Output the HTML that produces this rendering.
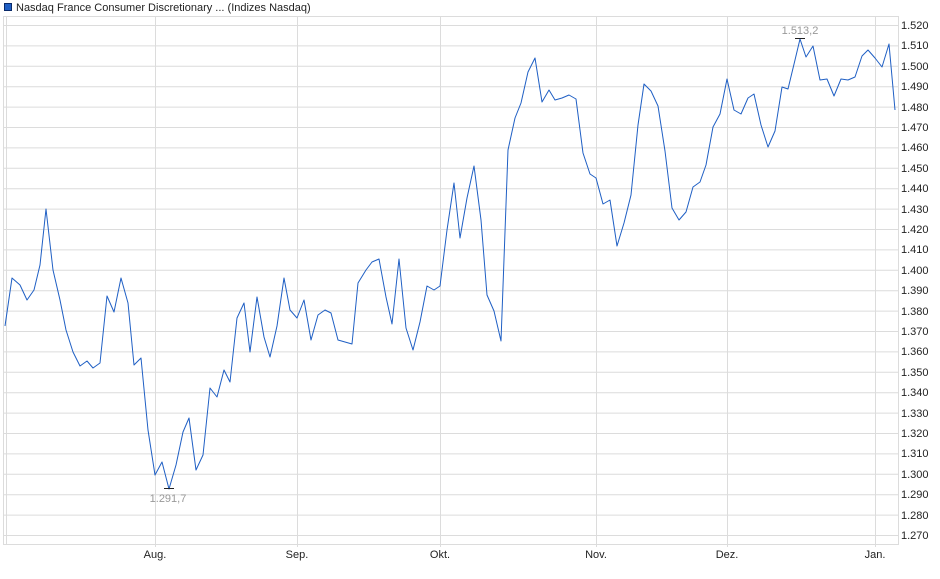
<!DOCTYPE html>
<html><head><meta charset="utf-8"><style>
body{margin:0;background:#fff;}
svg{display:block;font-family:"Liberation Sans",Arial,sans-serif;}
</style></head><body>
<svg width="940" height="579" viewBox="0 0 940 579" xmlns="http://www.w3.org/2000/svg">
<rect x="4.5" y="3.5" width="7" height="7" fill="#1f5fc4" stroke="#0a2a6a"/>
<text x="16" y="11" font-size="11" fill="#222">Nasdaq France Consumer Discretionary ... (Indizes Nasdaq)</text>
<g stroke="#dcdcdc" stroke-width="1" fill="none">
<rect x="3.5" y="16.5" width="895" height="528"/>
<line x1="6.5" y1="16" x2="6.5" y2="545"/>
<g id="h"></g>
<line x1="155.5" y1="16" x2="155.5" y2="547"/>
<line x1="297.5" y1="16" x2="297.5" y2="547"/>
<line x1="440.5" y1="16" x2="440.5" y2="547"/>
<line x1="596.5" y1="16" x2="596.5" y2="547"/>
<line x1="727.5" y1="16" x2="727.5" y2="547"/>
<line x1="875.5" y1="16" x2="875.5" y2="547"/>
<path d="M3 25.5H898M3 45.9H898M3 66.3H898M3 86.7H898M3 107.1H898M3 127.5H898M3 147.9H898M3 168.3H898M3 188.7H898M3 209.1H898M3 229.5H898M3 249.9H898M3 270.3H898M3 290.7H898M3 311.1H898M3 331.5H898M3 351.9H898M3 372.3H898M3 392.7H898M3 413.1H898M3 433.5H898M3 453.9H898M3 474.3H898M3 494.7H898M3 515.1H898M3 535.5H898"/>
</g>
<g font-size="11" fill="#222">
<text x="901" y="29">1.520</text><text x="901" y="49">1.510</text><text x="901" y="70">1.500</text><text x="901" y="90">1.490</text><text x="901" y="111">1.480</text><text x="901" y="131">1.470</text><text x="901" y="151">1.460</text><text x="901" y="172">1.450</text><text x="901" y="192">1.440</text><text x="901" y="213">1.430</text><text x="901" y="233">1.420</text><text x="901" y="253">1.410</text><text x="901" y="274">1.400</text><text x="901" y="294">1.390</text><text x="901" y="315">1.380</text><text x="901" y="335">1.370</text><text x="901" y="355">1.360</text><text x="901" y="376">1.350</text><text x="901" y="396">1.340</text><text x="901" y="417">1.330</text><text x="901" y="437">1.320</text><text x="901" y="457">1.310</text><text x="901" y="478">1.300</text><text x="901" y="498">1.290</text><text x="901" y="519">1.280</text><text x="901" y="539">1.270</text>
</g>
<g font-size="11" fill="#222" text-anchor="middle">
<text x="155" y="558">Aug.</text><text x="297" y="558">Sep.</text><text x="440" y="558">Okt.</text><text x="596" y="558">Nov.</text><text x="727" y="558">Dez.</text><text x="875" y="558">Jan.</text>
</g>
<polyline fill="none" stroke="#1f5fc4" stroke-width="1" stroke-linejoin="round" points="5,326 12,278 20,285 27,300 34,290 40,265 46,209 53,270 60,300 66,330 73,352 80,366 87,361 93,368 100,363 107,296 114,312 121,278 128,303 134,365 141,358 148,430 155,475 162,462 169,489 176,465 183,432 189,418 196,470 203,455 210,388 217,397 224,370 230,382 237,318 244,303 250,352 257,297 264,337 270,357 277,326 284,278 290,310 297,318 304,300 311,340 318,315 325,310 331,313 338,340 345,342 352,344 358,283 366,270 372,262 379,259 386,297 392,324 399,259 406,328 413,350 420,322 427,286 434,290 440,286 447,230 454,183 460,238 467,198 474,166 481,220 487,295 494,311 501,341 508,150 515,118 521,103 528,72 535,58 542,102 549,90 555,100 562,98 569,95 576,99 583,153 590,174 596,178 603,204 610,200 617,246 624,223 631,195 638,125 644,84 651,91 658,106 665,151 672,208 679,220 686,212 693,187 700,182 706,165 713,127 720,114 727,79 734,110 741,114 748,98 754,94 761,125 768,147 775,131 782,87 788,89 795,60 800,39 806,57 813,46 820,80 827,79 834,96 841,79 848,80 855,77 862,56 868,50 875,58 882,67 889,44 895,110"/>
<g stroke="#222" stroke-width="1">
<line x1="164" y1="488.5" x2="174" y2="488.5"/><line x1="795" y1="38.5" x2="805" y2="38.5"/>
</g>
<g font-size="11" fill="#999" text-anchor="middle">
<text x="168" y="502">1.291,7</text><text x="800" y="34">1.513,2</text>
</g>
</svg>
</body></html>
